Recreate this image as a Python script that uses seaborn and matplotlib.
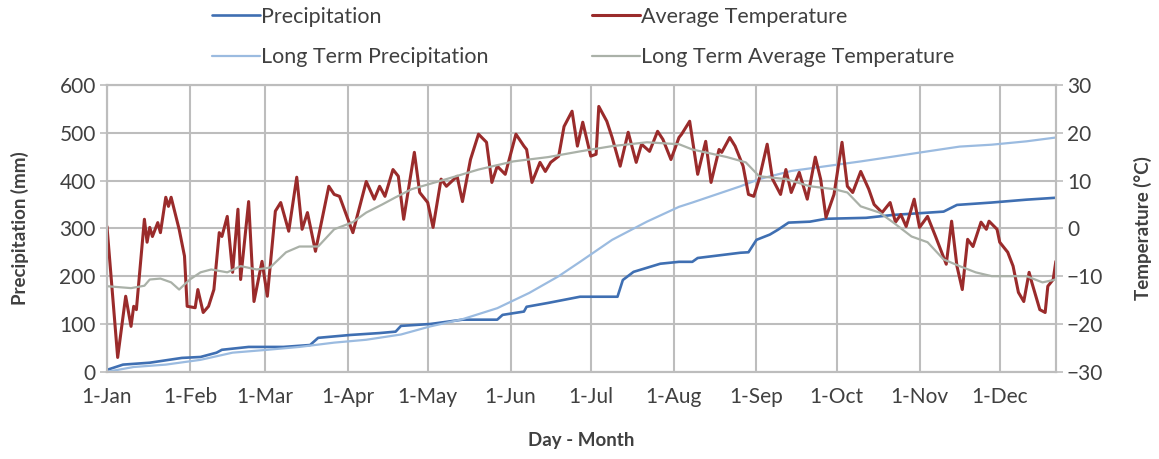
import matplotlib
matplotlib.use("Agg")
import matplotlib.pyplot as plt
import matplotlib.dates as mdates
from matplotlib.ticker import FuncFormatter, MultipleLocator
import numpy as np
import pandas as pd
import seaborn as sns

# --------------------------------------------------------------------------- #
# Data (day of year, value)
# --------------------------------------------------------------------------- #
START = pd.Timestamp("2013-01-01")
LAST_DAY = 355

precip_day = [0, 6, 16, 28, 35, 41, 43, 53, 66, 76, 79, 91, 102, 108, 110, 121,
              133, 146, 148, 156, 157, 165, 177, 191, 193, 197, 207, 214, 219,
              221, 237, 240, 243, 248, 251, 255, 263, 269, 284, 294, 313, 318,
              331, 344, 355]
precip_mm = [4, 15, 19, 29, 31, 40, 46, 52, 52, 56, 71, 77, 81, 84, 96, 100,
             109, 109, 119, 126, 136, 144, 157, 157, 192, 209, 226, 230, 230,
             238, 249, 250, 276, 287, 297, 312, 314, 320, 322, 328, 335, 349,
             354, 360, 364]

lt_precip_day = [0, 10, 22, 35, 47, 60, 72, 85, 97, 110, 121, 133, 146, 158,
                 169, 177, 189, 202, 214, 219, 237, 244, 256, 269, 282, 294,
                 307, 319, 331, 344, 355]
lt_precip_mm = [0, 10, 15, 25, 40, 46, 52, 61, 67, 78, 95, 110, 133, 165,
                200, 230, 276, 314, 345, 354, 388, 403, 420, 430, 440, 450,
                461, 471, 475, 482, 490]

temp_day = [0, 4, 7, 9, 10, 11, 14, 15, 16, 17, 19, 20, 22, 23, 24, 27, 29, 30,
            33, 34, 36, 38, 40, 42, 43, 45, 47, 49, 50, 53, 55, 58, 60, 63, 65,
            68, 71, 73, 75, 78, 83, 85, 87, 92, 97, 100, 102, 104, 107, 109,
            111, 115, 117, 120, 122, 125, 127, 131, 133, 136, 139, 142, 144,
            146, 149, 153, 156, 157, 159, 162, 164, 166, 169, 171, 174, 176,
            178, 181, 183, 184, 187, 189, 192, 195, 198, 200, 203, 206, 208,
            211, 214, 215, 218, 221, 224, 226, 229, 230, 233, 235, 238, 240,
            242, 244, 247, 249, 252, 254, 256, 259, 262, 265, 267, 269, 272,
            275, 277, 279, 282, 285, 287, 290, 293, 295, 297, 299, 302, 304,
            307, 310, 314, 316, 318, 320, 322, 324, 327, 329, 330, 333, 334,
            337, 339, 341, 343, 345, 346, 349, 351, 352, 354, 355]
temp_c = [0.4, -27, -14.2, -20.5, -16.3, -17, 1.9, -2.9, 0.2, -1.7, 1.2, -0.9,
          6.5, 4.6, 6.5, -0.2, -5.8, -16.3, -16.6, -12.8, -17.6, -16.3, -12.8,
          -0.9, -1.7, 2.5, -9.2, 4, -10.7, 5.6, -15.3, -6.9, -14.2, 3.6, 5.4,
          -0.6, 10.7, -0.2, 3.3, -4.8, 8.8, 7.1, 6.7, -0.9, 9.8, 6.1, 8.8,
          6.7, 12.3, 10.9, 1.9, 15.9, 7.5, 5.4, 0.2, 10.3, 8.8, 10.9, 5.6,
          14.4, 19.7, 18, 9.6, 13, 11.3, 19.7, 17.2, 16.5, 9.6, 13.8, 11.9,
          13.8, 15.1, 21.3, 24.5, 17.2, 22.2, 15.1, 15.5, 25.5, 22.4, 19, 13,
          20.1, 13.8, 17.6, 16.1, 20.3, 18.6, 14.4, 19, 19.7, 22.4, 11.3,
          18.2, 9.6, 16.5, 15.9, 19, 17.2, 13, 7.1, 6.7, 10.3, 17.6, 10.3,
          7.1, 12.3, 7.5, 11.7, 6.1, 14.9, 10.3, 2.3, 7.1, 18, 8.8, 7.5, 11.9,
          8.2, 5, 3.3, 5.4, 1.3, 2.9, 0.4, 6.1, 0.2, 2.5, -1.7, -7.5, 1.5,
          -7.9, -12.8, -2.3, -3.8, 1.3, -0.2, 1.5, -0.2, -2.9, -5, -7.9,
          -13.4, -15.3, -9.2, -11.3, -17, -17.6, -12.1, -10.7, -6.9]

lt_temp_day = [0, 9, 14, 16, 20, 24, 27, 31, 35, 39, 45, 50, 56, 61, 67, 72,
               79, 85, 92, 97, 103, 108, 114, 127, 139, 152, 165, 177, 189,
               202, 214, 219, 232, 239, 244, 254, 263, 272, 277, 282, 289,
               294, 301, 307, 313, 319, 325, 331, 338, 344, 350, 355]
lt_temp_c = [-12.1, -12.5, -12, -10.7, -10.5, -11.3, -12.8, -10.7, -9.2, -8.6,
             -9.2, -7.9, -8.6, -8.2, -5, -3.8, -3.8, -0.2, 1.3, 3.3, 5, 6.5,
             8.2, 10.3, 12.3, 14, 14.9, 16.1, 17.2, 18, 17.6, 16.5, 14.9, 13.8,
             10.9, 10.3, 8.8, 8.2, 7.5, 4.6, 3.3, 1.3, -1.7, -2.9, -6.5, -7.9,
             -9.2, -10, -10, -10, -11.3, -10.7]

PRECIP_COLOR = "#3f6fb2"
LT_PRECIP_COLOR = "#9bbbe0"
TEMP_COLOR = "#9a2b2b"
LT_TEMP_COLOR = "#aab1a8"
GRID_COLOR = "#bdbdbd"
TEXT_COLOR = "#404040"


def to_frame(days, values):
    return pd.DataFrame({"date": START + pd.to_timedelta(days, unit="D"),
                         "value": values})


sns.set_style("white")
plt.rcParams["font.family"] = ["Lato", "DejaVu Sans"]

fig, ax = plt.subplots(figsize=(11.59, 4.59), dpi=100)
fig.subplots_adjust(left=0.0923, right=0.911, top=0.815, bottom=0.19)
ax2 = ax.twinx()

sns.lineplot(data=to_frame(precip_day, precip_mm), x="date", y="value",
             ax=ax, color=PRECIP_COLOR, linewidth=1.9, label="Precipitation",
             legend=False, estimator=None)
sns.lineplot(data=to_frame(lt_precip_day, lt_precip_mm), x="date", y="value",
             ax=ax, color=LT_PRECIP_COLOR, linewidth=1.6,
             label="Long Term Precipitation", legend=False, estimator=None)
sns.lineplot(data=to_frame(temp_day, temp_c), x="date", y="value",
             ax=ax2, color=TEMP_COLOR, linewidth=2.2,
             label="Average Temperature", legend=False, estimator=None)
sns.lineplot(data=to_frame(lt_temp_day, lt_temp_c), x="date", y="value",
             ax=ax2, color=LT_TEMP_COLOR, linewidth=1.6,
             label="Long Term Average Temperature", legend=False, estimator=None)

# axes ranges and ticks
ax.set_xlim(START, START + pd.Timedelta(days=LAST_DAY))
ax.set_ylim(0, 600)
ax2.set_ylim(-30, 30)
ax.yaxis.set_major_locator(MultipleLocator(100))
ax2.yaxis.set_major_locator(MultipleLocator(10))
ax.xaxis.set_major_locator(mdates.MonthLocator())
ax.xaxis.set_major_formatter(
    FuncFormatter(lambda v, p: mdates.num2date(v).strftime("%-d-%b")))

ax.grid(True, color=GRID_COLOR, linewidth=1.5)
ax2.grid(False)
ax.set_axisbelow(True)

for a in (ax, ax2):
    for side in a.spines.values():
        side.set_color(GRID_COLOR)
        side.set_linewidth(1.5)
    a.tick_params(colors=TEXT_COLOR, labelsize=15, length=5,
                  width=1.2, direction="out", pad=3)
    a.tick_params(axis="both", color=GRID_COLOR)
ax.tick_params(axis="x", pad=6)

ax.set_xlabel("Day - Month", fontsize=13.5, fontweight="bold",
              color=TEXT_COLOR, labelpad=18)
ax.set_ylabel("Precipitation (mm)", fontsize=13.5, fontweight="bold",
              color=TEXT_COLOR, labelpad=22)
ax2.set_ylabel("Temperature (\u00b0C)", fontsize=13.5, fontweight="bold",
               color=TEXT_COLOR, labelpad=22)

# legend across the top, two columns
h1, l1 = ax.get_legend_handles_labels()
h2, l2 = ax2.get_legend_handles_labels()
fig.legend(h1 + h2, l1 + l2, ncol=2, loc="center",
           bbox_to_anchor=(0.5035, 0.919), frameon=False, fontsize=15.5,
           handlelength=2.2, handletextpad=0.08, labelspacing=0.95,
           columnspacing=4.8, labelcolor=TEXT_COLOR)

fig.savefig("out.png", dpi=100)
plt.close(fig)
